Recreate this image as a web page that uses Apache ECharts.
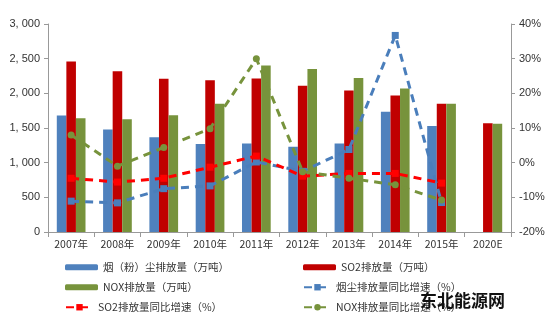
<!DOCTYPE html>
<html><head><meta charset="utf-8">
<script src="https://cdn.jsdelivr.net/npm/echarts@6/dist/echarts.min.js"></script>
<style>html,body{margin:0;padding:0;background:#fff}#c{width:559px;height:327px}</style>
</head><body><div id="c"></div>
<script>
const categories = ['2007年','2008年','2009年','2010年','2011年','2012年','2013年','2014年','2015年','2020E'];
const dustEmission = [1680,1480,1365,1270,1275,1230,1275,1735,1530,null];
const so2Emission = [2460,2320,2210,2190,2215,2110,2040,1970,1850,1570];
const noxEmission = [1640,1625,1685,1850,2400,2350,2220,2070,1850,1560];
const dustGrowth = [-11.1,-11.6,-7.5,-6.7,0.2,-2.5,3.8,36.7,-11.5,null];
const so2Growth = [-4.5,-5.6,-4.5,-1.3,1.9,-3.9,-3.1,-3.1,-5.9,null];
const noxGrowth = [8.0,-1.0,4.4,9.8,30.0,-2.6,-4.5,-6.4,-10.8,null];
const names = ['烟（粉）尘排放量（万吨）','SO2排放量（万吨）','NOX排放量（万吨）','烟尘排放量同比增速（%）','SO2排放量同比增速（%）','NOX排放量同比增速（%）'];

const cBlue = '#4F81BD', cRed = '#C00000', cGreen = '#77933C';
const font = '"Liberation Sans", Arial, "Noto Sans CJK SC", sans-serif';
const cjk = '"Noto Sans CJK SC", sans-serif';
const chart = echarts.init(document.getElementById('c'), null, {renderer:'canvas'});
const legendPos = [[60,257],[298,257],[60,277],[298,277],[60,297],[298,297]];
const legends = names.map((n,i)=>({
  data:[n], left:legendPos[i][0], top:legendPos[i][1],
  itemWidth: i<3 ? 33 : 27, itemHeight: i<3 ? 6 : 8, itemGap:4,
  textStyle:{fontFamily:cjk,fontSize:10.5,color:'#333'}, selectedMode:false
}));
const lineSeries = (name,data,color,symbol)=>({
  name, type:'line', yAxisIndex:1, data, symbol, symbolSize:7, connectNulls:false,
  lineStyle:{color,width:3,type:[8,6]}, itemStyle:{color}, z:5
});
chart.setOption({
  animation:false,
  textStyle:{fontFamily:font},
  grid:{left:48,right:48,top:24,bottom:95},
  legend:legends,
  xAxis:{type:'category',data:categories,
    axisLine:{lineStyle:{color:'#999'}},axisTick:{show:true,alignWithLabel:false,lineStyle:{color:'#999'}},
    axisLabel:{fontFamily:cjk,fontSize:10.5,color:'#333',margin:7}},
  yAxis:[
    {type:'value',min:0,max:3000,interval:500,
     axisLine:{show:true,lineStyle:{color:'#999'}},axisTick:{show:true,inside:false,length:4,lineStyle:{color:'#999'}},
     splitLine:{show:false},
     axisLabel:{fontSize:11,color:'#333',formatter:v=>v.toLocaleString('en-US').replace(',',', ')}},
    {type:'value',min:-20,max:40,interval:10,
     axisLine:{show:true,lineStyle:{color:'#999'}},axisTick:{show:true,length:4,lineStyle:{color:'#999'}},
     splitLine:{show:false},
     axisLabel:{fontSize:11,color:'#333',formatter:v=>v+'%'}}
  ],
  series:[
    {name:names[0],type:'bar',data:dustEmission,itemStyle:{color:cBlue},barGap:'0%',barCategoryGap:'38%'},
    {name:names[1],type:'bar',data:so2Emission,itemStyle:{color:cRed}},
    {name:names[2],type:'bar',data:noxEmission,itemStyle:{color:cGreen}},
    lineSeries(names[3],dustGrowth,'#4A7EBB','rect'),
    lineSeries(names[4],so2Growth,'#FF0000','rect'),
    lineSeries(names[5],noxGrowth,'#77933C','circle')
  ],
  graphic:[{type:'text',left:420,top:292,z:100,style:{text:'东北能源网',font:'bold 17px "Noto Sans CJK SC"',fill:'#111'}}]
});
</script></body></html>
